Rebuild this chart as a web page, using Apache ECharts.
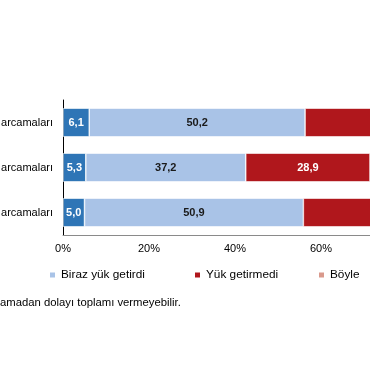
<!DOCTYPE html>
<html>
<head>
<meta charset="utf-8">
<script src="https://cdn.jsdelivr.net/npm/echarts@6/dist/echarts.min.js"></script>
<style>
html,body{margin:0;padding:0;width:370px;height:380px;overflow:hidden;background:#fff;}
#chart{position:absolute;left:0;top:0;width:500px;height:380px;}
</style>
</head>
<body>
<div id="chart"></div>
<script>
var categories = ["arcamaları", "arcamaları", "arcamaları"];
var seriesNames = ["Çok yük getirdi", "Biraz yük getirdi", "Yük getirmedi", "Böyle"];
var cokYuk = [6.1, 5.3, 5.0];
var birazYuk = [50.2, 37.2, 50.9];
var yukGetirmedi = [39.0, 28.9, 39.5];
var boyle = [4.7, 28.6, 4.6];
var xTicks = [0, 20, 40, 60, 80, 100];
var footnote = "amadan dolayı toplamı vermeyebilir.";

var colors = ["#2E75B6", "#A9C3E7", "#B0171C", "#D9998C"];
var labelColors = ["#fff", "#1a1a1a", "#fff", "#1a1a1a"];
var values = [cokYuk, birazYuk, yukGetirmedi, boyle];
var FONT = "'Liberation Sans', Arial, sans-serif";

var chart = echarts.init(document.getElementById('chart'), null, {renderer: 'canvas'});

var series = values.map(function (vals, i) {
  return {
    name: seriesNames[i],
    type: 'bar',
    stack: 'total',
    barWidth: '63.5%',
    data: vals,
    itemStyle: {color: colors[i], borderColor: '#fff', borderWidth: 0.6},
    label: {
      show: true,
      position: 'inside',
      color: labelColors[i],
      fontFamily: FONT,
      fontSize: 11,
      fontWeight: 'bold',
      formatter: function (p) { return p.value.toFixed(1).replace('.', ','); }
    }
  };
});

function legendAt(name, left) {
  return {
    data: [name],
    left: left,
    top: 269,
    icon: 'rect',
    itemWidth: 7,
    itemHeight: 7,
    itemGap: 5,
    padding: 0,
    textStyle: {fontFamily: FONT, fontSize: 11.8, color: '#000'}
  };
}

chart.setOption({
  animation: false,
  textStyle: {fontFamily: FONT},
  legend: [
    legendAt(seriesNames[1], 48),
    legendAt(seriesNames[2], 193),
    legendAt(seriesNames[3], 317)
  ],
  grid: {left: 63, right: 7, top: 100, height: 135, containLabel: false, outerBoundsMode: 'none'},
  xAxis: {
    type: 'value',
    min: xTicks[0],
    max: xTicks[xTicks.length - 1],
    interval: xTicks[1] - xTicks[0],
    axisLine: {show: true, lineStyle: {color: '#8a8a8a', width: 1}},
    axisTick: {show: false},
    splitLine: {show: false},
    axisLabel: {
      color: '#000', fontSize: 11, fontFamily: FONT, margin: 8,
      formatter: '{value}%'
    }
  },
  yAxis: {
    type: 'category',
    data: categories,
    inverse: true,
    axisLine: {show: true, lineStyle: {color: '#000', width: 1}},
    axisTick: {show: false},
    axisLabel: {color: '#000', fontSize: 11, fontFamily: FONT, margin: 10}
  },
  graphic: [{
    type: 'text',
    left: 0,
    top: 297,
    style: {text: footnote, fontSize: 11.3, fontFamily: FONT, fill: '#000'}
  }],
  series: series
});
</script>
</body>
</html>
